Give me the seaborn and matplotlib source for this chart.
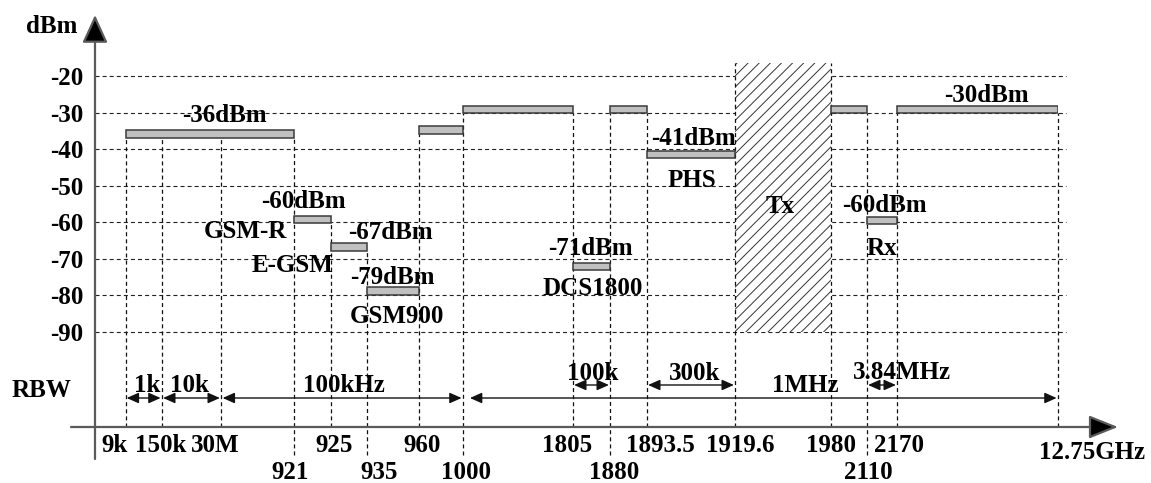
import numpy as np
import pandas as pd
import matplotlib
matplotlib.use("Agg")
import matplotlib.pyplot as plt
import seaborn as sns

# ---------------- data ----------------
# emission-limit bands: frequency range (MHz) and drawn level (dBm)
band_start = [0.009, 921, 925, 935, 960, 1000, 1805, 1880, 1893.5, 1980, 2110, 2170]
band_end = [921, 925, 935, 960, 1000, 1805, 1880, 1893.5, 1919.6, 2110, 2170, 12750]
band_level = [-35.8, -59.2, -66.8, -78.8, -34.8, -29.2, -72.1, -29.2, -41.4, -29.2, -59.5, -29.2]

# transmit band (hatched)
tx_band = [1919.6, 1980]
tx_top = -16.5
tx_bottom = -90

# resolution bandwidth spans
rbw_start = [0.009, 0.15, 30, 1000, 1805, 1893.5, 2110]
rbw_end = [0.15, 30, 1000, 12750, 1880, 1919.6, 2170]
rbw_label = ["1k", "10k", "100kHz", "1MHz", "100k", "300k", "3.84MHz"]

# frequency boundaries and their labels
boundary_freq = [0.009, 0.15, 30, 921, 925, 935, 960, 1000, 1805, 1880,
                 1893.5, 1919.6, 1980, 2110, 2170, 12750]
boundary_label = ["9k", "150k", "30M", "921", "925", "935", "960", "1000", "1805",
                  "1880", "1893.5", "1919.6", "1980", "2110", "2170", "12.75GHz"]

ytick_values = [-20, -30, -40, -50, -60, -70, -80, -90]

limit_labels = ["-36dBm", "-60dBm", "-67dBm", "-79dBm", "-71dBm", "-41dBm", "-60dBm", "-30dBm"]
system_labels = ["GSM-R", "E-GSM", "GSM900", "DCS1800", "PHS", "Tx", "Rx"]

# ---------------- layout (schematic, non-linear frequency axis) ----------------
W, H = 1151, 483
AXIS_F = [0.0] + boundary_freq
AXIS_PX = [95, 126, 162, 221, 294, 331, 367, 419, 463, 573, 610, 647, 735, 831, 867, 897, 1058]
Y20_PX, PX_PER_DB = 76.0, 3.657
XAXIS_PY, TOP_PY = 427, 15

def py2dbm(py):
    return -20 - (py - Y20_PX) / PX_PER_DB

def fwd(f):
    return np.interp(f, AXIS_F, AXIS_PX)

def inv(p):
    return np.interp(p, AXIS_PX, AXIS_F)

BAR_H = 2.05
label_row = ["up", "up", "up", "low", "up", "low", "up", "low", "up", "low",
             "up", "up", "up", "low", "up", "end"]
label_pos = [(115, 452), (160.5, 452), (215, 452), (290, 479), (334, 452), (379, 479),
             (422.5, 452), (466, 479), (567, 452), (614, 479), (660, 452), (740, 452),
             (831, 452), (868, 479), (899, 452), (1092, 459)]
limit_pos = [(224, 122), (303.5, 208), (390.5, 239), (392.5, 284), (590, 255),
             (693, 145), (884.5, 212), (986.5, 102)]
system_pos = [(245, 238), (293, 272), (397, 323), (592.5, 295), (692, 187), (780, 213), (882, 255)]
rbw_text_pos = [(147, 392), (189, 392), (344, 392), (805, 392), (593, 380), (695, 380), (902, 379)]
rbw_arrow_py = [398, 398, 398, 398, 385, 385, 385]
rbw_shrink = [(0.5, 1.0), (0.8, 0.8), (1.2, 1.0), (5.0, 1.0), (0.8, 0.8), (0.8, 0.8), (0.8, 0.8)]

# ---------------- style ----------------
sns.set_theme(style="white")
plt.rcParams["font.family"] = ["Liberation Serif", "DejaVu Serif"]
plt.rcParams["font.weight"] = "bold"
plt.rcParams["lines.scale_dashes"] = False
plt.rcParams["hatch.linewidth"] = 0.7
plt.rcParams["hatch.color"] = "#333333"
FS = 18
DASH = (0, (2.9, 2.2))

fig = plt.figure(figsize=(W / 100, H / 100), dpi=100)
fig.patch.set_facecolor("white")
ax = fig.add_axes([AXIS_PX[0] / W, (H - XAXIS_PY) / H,
                   (AXIS_PX[-1] - AXIS_PX[0]) / W, (XAXIS_PY - TOP_PY) / H])
ax.set_xscale("function", functions=(fwd, inv))
ax.set_xlim(0, boundary_freq[-1])
ax.set_ylim(py2dbm(XAXIS_PY), py2dbm(TOP_PY))
ax.set_facecolor("white")
for s in ax.spines.values():
    s.set_visible(False)
sns.despine(ax=ax, left=True, bottom=True)

# horizontal grid (dashed), extending slightly past the last boundary
grid_end = (1066 - AXIS_PX[0]) / (AXIS_PX[-1] - AXIS_PX[0])
for v in ytick_values:
    ax.axhline(v, xmin=0, xmax=grid_end, color="#222222", lw=0.8, ls=DASH,
               clip_on=False, zorder=1)

# y tick labels
ax.set_xticks([])
ax.set_yticks(ytick_values)
ax.set_yticklabels([str(v) for v in ytick_values], fontsize=FS, fontweight="bold")
ax.tick_params(axis="y", length=0, pad=8.6, colors="black")
ax.grid(False)

# Tx hatched block
ax.fill_between(tx_band, tx_bottom, tx_top, facecolor="white", edgecolor="#333333",
                hatch="///", linewidth=0, zorder=2)

# vertical dashed boundary lines
bs = np.array(band_start)
be = np.array(band_end)
lv = np.array(band_level)
bottoms = lv - BAR_H / 2
for f, row in zip(boundary_freq, label_row):
    if f in tx_band:
        top = tx_top
    else:
        touching = [b for b, s0, e0 in zip(bottoms, bs, be) if s0 <= f <= e0]
        top = max(touching)
    low = py2dbm(455) if row == "low" else py2dbm(XAXIS_PY)
    ax.plot([f, f], [low, top], color="#111111", lw=0.9, ls=DASH, clip_on=False, zorder=3)

# limit bars
ax.bar(bs, BAR_H, width=be - bs, bottom=bottoms, align="edge",
       color="#c0c0c0", edgecolor="#3a3a3a", linewidth=1.1, zorder=4)

# RBW double arrows
for f0, f1, py, (sa, sb) in zip(rbw_start, rbw_end, rbw_arrow_py, rbw_shrink):
    y = py2dbm(py)
    ax.annotate("", xy=(f1, y), xytext=(f0, y),
                arrowprops=dict(arrowstyle="<|-|>,head_length=0.72,head_width=0.32",
                                mutation_scale=10, color="#111111", lw=1.0,
                                shrinkA=sa, shrinkB=sb), zorder=5)

# axes with arrow heads (figure pixel layout)
def fig_xy(px, py):
    return (px / W, 1 - py / H)

ax.annotate("", xy=fig_xy(95, TOP_PY), xytext=fig_xy(95, 459), xycoords="figure fraction",
            textcoords="figure fraction",
            arrowprops=dict(arrowstyle="-|>,head_length=1.73,head_width=0.79",
                            mutation_scale=10, facecolor="black", edgecolor="#5a5a5a",
                            lw=1.6, shrinkA=0, shrinkB=0))
ax.annotate("", xy=fig_xy(1118, XAXIS_PY), xytext=fig_xy(71, XAXIS_PY),
            xycoords="figure fraction", textcoords="figure fraction",
            arrowprops=dict(arrowstyle="-|>,head_length=1.8,head_width=0.72",
                            mutation_scale=10, facecolor="black", edgecolor="#5a5a5a",
                            lw=1.6, shrinkA=0, shrinkB=0))

def put(txt, px, py):
    fig.text(px / W, 1 - py / H, txt, ha="center", va="baseline",
             fontsize=FS, fontweight="bold", color="black")

put("dBm", 52, 33)
put("RBW", 41, 397)
for t, (px, py) in zip(boundary_label, label_pos):
    put(t, px, py)
for t, (px, py) in zip(limit_labels, limit_pos):
    put(t, px, py)
for t, (px, py) in zip(system_labels, system_pos):
    put(t, px, py)
for t, (px, py) in zip(rbw_label, rbw_text_pos):
    put(t, px, py)

fig.savefig("out.png", dpi=100, facecolor="white")
